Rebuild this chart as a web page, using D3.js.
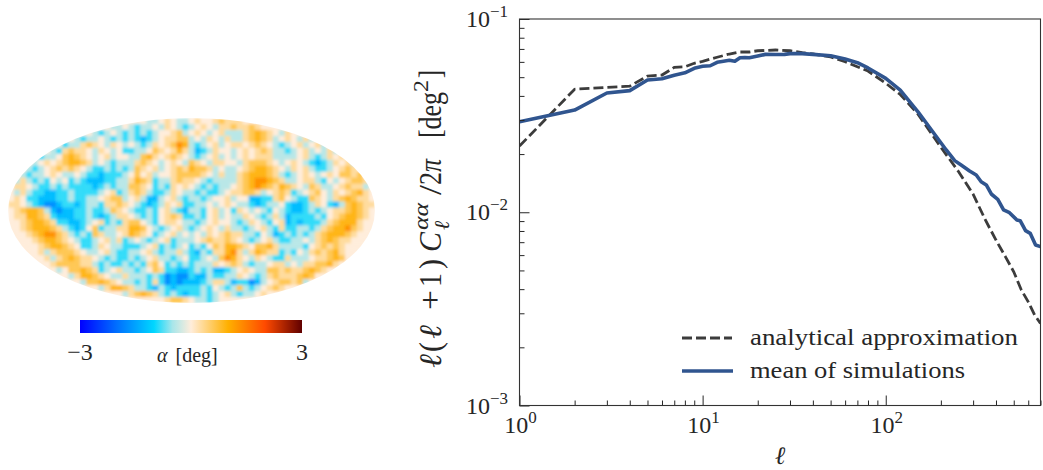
<!DOCTYPE html>
<html>
<head>
<meta charset="utf-8">
<script src="https://cdn.jsdelivr.net/npm/d3@7"></script>
<style>
body { margin: 0; background: #fff; }
text { font-family: "Liberation Serif", serif; fill: #262626; }
</style>
</head>
<body>
<div id="chart"></div>
<script>
// curves
var ellAnalytic = [1, 2, 3, 4, 5, 6, 7, 8, 9, 10, 12, 14, 16, 18, 20, 25, 30, 35, 40, 50, 60, 70, 80, 100, 120, 150, 200, 250, 300, 350, 400, 450, 500, 550, 600, 650, 700];
var analytic = [0.0220, 0.0433, 0.0443, 0.0449, 0.0507, 0.0513, 0.0562, 0.0566, 0.0590, 0.0604, 0.0634, 0.0659, 0.0675, 0.0675, 0.0685, 0.0691, 0.0685, 0.0669, 0.0659, 0.0636, 0.0601, 0.0566, 0.0538, 0.0465, 0.0407, 0.0322, 0.0217, 0.0162, 0.0124, 0.00912, 0.00718, 0.00589, 0.00492, 0.00396, 0.00344, 0.00294, 0.00266];
var ellSims = [1, 2, 3, 4, 5, 6, 7, 8, 9, 10, 11, 12, 13, 14, 15, 16, 17, 18, 20, 22, 25, 28, 30, 35, 40, 50, 60, 70, 80, 100, 120, 150, 200, 214, 238, 258, 287, 312, 332, 354, 377, 409, 440, 474, 520, 542, 580, 615, 658, 700];
var sims = [0.0294, 0.0338, 0.0414, 0.0426, 0.0483, 0.0491, 0.0512, 0.0527, 0.0556, 0.0569, 0.0573, 0.0597, 0.0604, 0.0611, 0.0604, 0.0630, 0.0632, 0.0630, 0.0644, 0.0656, 0.0655, 0.0656, 0.0662, 0.0662, 0.0656, 0.0646, 0.0621, 0.0594, 0.0558, 0.0493, 0.0429, 0.0331, 0.0229, 0.0210, 0.0185, 0.01756, 0.01635, 0.01559, 0.01439, 0.01384, 0.01243, 0.01167, 0.01028, 0.00995, 0.00912, 0.00904, 0.00803, 0.00778, 0.00677, 0.00664];

var xMajor = [1, 10, 100];
var xMinor = [2, 3, 4, 5, 6, 7, 8, 9, 20, 30, 40, 50, 60, 70, 80, 90, 200, 300, 400, 500, 600, 700];
var yMajor = [0.001, 0.01, 0.1];
var yMinor = [0.002, 0.003, 0.004, 0.005, 0.006, 0.007, 0.008, 0.009, 0.02, 0.03, 0.04, 0.05, 0.06, 0.07, 0.08, 0.09];
var legendLabels = ["analytical approximation", "mean of simulations"];

// alpha map, coarse cells read by eye; each letter is one level below
var mapLetters = "abcdefghi";
var mapLevels = [-1.7, -1.25, -0.85, -0.4, 0, 0.28, 0.62, 0.92, 1.3];
var mapRows = [
  "eeeeeeeeee eeeeeeeeee eeeddefedd efeefgfffe eeeeeeeeee eeeeeeeeeee",
  "eeeeeeeeee eeeeeeedde dcddedfedc defedffgff gfeeeeeeee eeeeeeeeeee",
  "eeeeeeeeee eeeedcdedc dcdcdeefgd efedefdddf ghgfedfeee eeeeeeeeeee",
  "eeeeeeeeee edcddedcdc dcbcdeffgg dedfedfddf ghgfdefedf deeeeeeeeee",
  "eeeeeeeeec ddfgfedfed edcdfefgih dcdefdeffe fgfedcdefd efdeeeeeeee",
  "eeeeeeedcf gffedfedec cddegfefhf dbcdfeedef efgfddcdef dedfdeeeeee",
  "eeeeecddeg hgfedefdee ddghfefgfe dcdefdedef efffddddef dcdfefeeeee",
  "eeeedefefg hhgfdedcdd dfgfedefed gfedffeedf gggfedefed cbcdfefdeee",
  "eeedcdefgf gfedccdcdc dgfefdefgf hggfdeddef ghhgfedfef dccdefgfeee",
  "eedcddefed dedccbcccd egefdeefgg ggfedfddfg hhhgfdcdef edefeggfgee",
  "edfdcdcede cdcbbbccdd fhgfcddfgf fedcddddfg hiihgfddef fdcedefggfe",
  "effedccdcd ccccbcdcdd ggfecdcfef edcdcddefg hihgfhgfed gfddefgffde",
  "edfdccbbcc dccccdefcd fgfdccdfed dcdccdeffg gfdefgfcde fgedfefghfe",
  "efeccbbbcc dccddefggd efdbbdefdc ddcdeefdee bbccfgedcc gfedfghgffe",
  "ffedcbaabc cbcddcffgf edcbcdfefc cddedefedd cbcddecbbc dfecbdghgff",
  "efghhgdbab bccdccdgfe dccdcefdcb ddcefdecfe dedcedcbbc dcdeffghgfe",
  "effhhgfcbb bccdcbcdff edcdcefgfc cdcefdeddf edcdfdbccc cdcefghhgfe",
  "eefghhgfcc bbcdefcdcf ggedceffed dcdefeedcd fedcefbcbc ccdfghhhfee",
  "eefghhhgfd cbcegcddff hhgedcdefd cdefedfddc defdcfccdd cdfghhigfee",
  "eeefghiigf dcdcgfddef hgfecdefde dedfefgffd dcedbcdcdc dfghhhgfeee",
  "eeeefghhgf edccdefdfc dedcdefcdd defgffgfed cdefdccdde dfghgffeeee",
  "eeeeefghhg feccdfeddc ccdefcdcde cdcegfhhgf egghfddddc efgfgfeeeee",
  "eeeeefdfgg gfeddefdcc ddefdcddfd cbdcffhifd fhgffcdced fgfghfeeeee",
  "eeeeeefdfg hgffedcdcc dcdefddcde ccdedgihfe dfedccfddd effghgeeeee",
  "eeeeeeefgg ggffdcdccd cdcfgecdcd cdddfefgfd cddeffdedf fgghfeeeeee",
  "eeeeeeeede gghgfcdefd dcdegfccbb cdcdbbcdef eddggfgffg hgfeeeeeeee",
  "eeeeeeeeee dfhhgfeddf dddcdcabaa cbbdccddfe dcdfgfffgh geeeeeeeeee",
  "eeeeeeeeee eedgghgfed dcdcfcabab bbcdffdbcc abdefggfgd eeeeeeeeeee",
  "eeeeeeeeee eeeeedfhhg fddcbdcbcc ccdcedcdgd cdefgfeeee eeeeeeeeeee",
  "eeeeeeeeee eeeeeeeeed fghgfdcdcb ccdcdefdcd defeeeeeee eeeeeeeeeee",
  "eeeeeeeeee eeeeeeeeee eeeeeefggf eddcdeeeee eeeeeeeeee eeeeeeeeeee"
];

// colormap stops of the colour bar, in degrees
var cmapValues = [-3, -2, -1, -0.5, 0, 1, 2, 3];
var cmapColors = ["#0000ff", "#0070ff", "#00d7ff", "#a8e6ea", "#ffeddb", "#ffb000", "#ff4a00", "#600000"];

var svgWidth = 1043;
var svgHeight = 470;

var svg = d3.select("#chart")
    .append("svg")
    .attr("width", svgWidth)
    .attr("height", svgHeight)
    .style("display", "block");

var defs = svg.append("defs");

var color = d3.scaleLinear().domain(cmapValues).range(cmapColors).clamp(true);

//------- the map
var mapBox = { left: 8, top: 118, width: 367, height: 185 };
var nCols = 61;
var cells = [];
mapRows.forEach(function (row, j) {
    row.replace(/ /g, "").split("").forEach(function (c, i) {
        cells.push({ i: i, j: j, value: mapLevels[mapLetters.indexOf(c)] });
    });
});

var mapX = d3.scaleBand().domain(d3.range(nCols)).range([mapBox.left, mapBox.left + mapBox.width]);
var mapY = d3.scaleBand().domain(d3.range(mapRows.length)).range([mapBox.top, mapBox.top + mapBox.height]);

defs.append("clipPath").attr("id", "mapClip")
    .append("ellipse")
    .attr("cx", mapBox.left + mapBox.width / 2)
    .attr("cy", mapBox.top + mapBox.height / 2)
    .attr("rx", mapBox.width / 2)
    .attr("ry", mapBox.height / 2);

defs.append("filter").attr("id", "mapBlur")
    .attr("x", "-5%").attr("y", "-5%").attr("width", "110%").attr("height", "110%")
    .append("feGaussianBlur").attr("stdDeviation", 1.8);

svg.append("g")
    .attr("clip-path", "url(#mapClip)")
    .append("g")
    .attr("filter", "url(#mapBlur)")
    .selectAll("rect")
    .data(cells)
    .enter()
    .append("rect")
    .attr("x", d => mapX(d.i))
    .attr("y", d => mapY(d.j))
    .attr("width", mapX.bandwidth() + 0.5)
    .attr("height", mapY.bandwidth() + 0.5)
    .attr("fill", d => color(d.value));

//------- colour bar
var barScale = d3.scaleLinear().domain([-3, 3]).range([80, 302]);
var grad = defs.append("linearGradient").attr("id", "barGrad");
cmapValues.forEach(function (v, i) {
    grad.append("stop")
        .attr("offset", (v + 3) / 6)
        .attr("stop-color", cmapColors[i]);
});
svg.append("rect")
    .attr("x", barScale(-3))
    .attr("y", 320)
    .attr("width", barScale(3) - barScale(-3))
    .attr("height", 13)
    .attr("fill", "url(#barGrad)");

svg.append("text").attr("x", barScale(-3)).attr("y", 360).attr("text-anchor", "middle")
    .style("font-size", "24px").text("\u22123");
svg.append("text").attr("x", barScale(3)).attr("y", 360).attr("text-anchor", "middle")
    .style("font-size", "24px").text("3");
var barLabel = svg.append("text").attr("x", 157).attr("y", 362).style("font-size", "20px");
barLabel.append("tspan").style("font-style", "italic").text("\u03b1");
barLabel.append("tspan").attr("dx", 8).text("[deg]");

//------- the plot
var margin = { top: 19, right: 2.5, bottom: 64.5, left: 519.5 };
var xScale = d3.scaleLog().domain([1, 700]).range([margin.left, svgWidth - margin.right]);
var yScale = d3.scaleLog().domain([0.001, 0.1]).range([svgHeight - margin.bottom, margin.top]);

function lineOf(xs, ys) {
    return d3.line()
        .x(function (d, i) { return xScale(xs[i]); })
        .y(function (d) { return yScale(d); })(ys);
}

defs.append("clipPath").attr("id", "plotClip")
    .append("rect")
    .attr("x", margin.left)
    .attr("y", margin.top)
    .attr("width", xScale.range()[1] - margin.left)
    .attr("height", yScale.range()[0] - margin.top);

var lines = svg.append("g").attr("clip-path", "url(#plotClip)");
lines.append("path")
    .attr("d", lineOf(ellAnalytic, analytic))
    .attr("fill", "none")
    .attr("stroke", "#3c3c3c")
    .attr("stroke-width", 2.8)
    .attr("stroke-dasharray", "10,4");
lines.append("path")
    .attr("d", lineOf(ellSims, sims))
    .attr("fill", "none")
    .attr("stroke", "#30558f")
    .attr("stroke-width", 3.6)
    .attr("stroke-linejoin", "round");

// axes, ticks point into the plot
function drawAxis(axis, where, size) {
    var g = svg.append("g").attr("transform", where)
        .call(axis.tickSizeInner(size).tickSizeOuter(0).tickFormat(""));
    g.select(".domain").remove();
    g.selectAll("line").attr("stroke", "#262626").attr("stroke-width", 1);
}
var bottomY = "translate(0," + yScale.range()[0] + ")";
var leftX = "translate(" + margin.left + ",0)";
drawAxis(d3.axisBottom(xScale).tickValues(xMajor), bottomY, -10);
drawAxis(d3.axisBottom(xScale).tickValues(xMinor), bottomY, -5);
drawAxis(d3.axisLeft(yScale).tickValues(yMajor), leftX, -10);
drawAxis(d3.axisLeft(yScale).tickValues(yMinor), leftX, -5);

svg.append("rect")
    .attr("x", margin.left)
    .attr("y", margin.top)
    .attr("width", xScale.range()[1] - margin.left)
    .attr("height", yScale.range()[0] - margin.top)
    .attr("fill", "none")
    .attr("stroke", "#333")
    .attr("stroke-width", 1.1);

// tick labels
function powerLabel(x, y, anchor, exponent) {
    var t = svg.append("text").attr("x", x).attr("y", y).attr("text-anchor", anchor)
        .style("font-size", "24px");
    t.append("tspan").text("10");
    t.append("tspan").attr("dy", -10).style("font-size", "17px").text(exponent);
}
xMajor.forEach(function (v) {
    powerLabel(xScale(v) + 1, 433, "middle", String(Math.round(Math.log10(v))));
});
yMajor.forEach(function (v) {
    powerLabel(508, yScale(v) + 8, "end", String(Math.round(Math.log10(v))).replace("-", "\u2212"));
});

// axis titles
svg.append("text").attr("x", 780).attr("y", 464).attr("text-anchor", "middle")
    .style("font-size", "25px").style("font-style", "italic").text("\u2113");

var yTitle = svg.append("g").attr("transform", "translate(441,368) rotate(-90)");
function titlePart(x, dy, size, italic, str, len) {
    var t = yTitle.append("text").attr("x", x).attr("y", dy)
        .style("font-size", size + "px").text(str);
    if (italic) t.style("font-style", "italic");
    if (len) t.attr("textLength", len).attr("lengthAdjust", "spacingAndGlyphs");
}
titlePart(0, 0, 31, true, "\u2113", 14);
titlePart(16, 0, 31, false, "(", 10);
titlePart(29, 0, 31, true, "\u2113", 14);
titlePart(58, 0, 31, false, "+", 20);
titlePart(81, 0, 31, false, "1", 14);
titlePart(99, 0, 31, false, ")", 10);
titlePart(116, 0, 31, true, "C", 20);
titlePart(138, -13, 21, true, "\u03b1\u03b1", 27);
titlePart(138, 8, 21, true, "\u2113", 9);
titlePart(173, 0, 31, false, "/", 10);
titlePart(183, 0, 31, false, "2", 13);
titlePart(196, 0, 31, true, "\u03c0", 13);
titlePart(230, 0, 31, false, "[deg", 46);
titlePart(276, -13, 21, false, "2", 12);
titlePart(290, 0, 31, false, "]", 8);

// legend
var legendY = [338, 371];
svg.append("line").attr("x1", 682).attr("x2", 732).attr("y1", legendY[0]).attr("y2", legendY[0])
    .attr("stroke", "#3c3c3c").attr("stroke-width", 2.8).attr("stroke-dasharray", "10,4");
svg.append("line").attr("x1", 682).attr("x2", 733).attr("y1", legendY[1]).attr("y2", legendY[1])
    .attr("stroke", "#30558f").attr("stroke-width", 3.6);
var legendLen = [268, 215];
svg.selectAll(".legendText")
    .data(legendLabels)
    .enter()
    .append("text")
    .attr("class", "legendText")
    .attr("x", 750)
    .attr("y", (d, i) => legendY[i] + 7)
    .attr("textLength", (d, i) => legendLen[i])
    .attr("lengthAdjust", "spacingAndGlyphs")
    .style("font-size", "23px")
    .text(d => d);
</script>
</body>
</html>
